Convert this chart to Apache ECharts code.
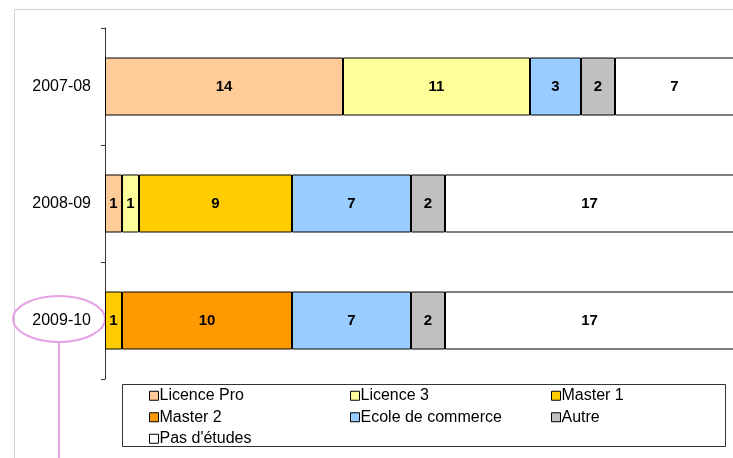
<!DOCTYPE html>
<html>
<head>
<meta charset="utf-8">
<script src="https://cdn.jsdelivr.net/npm/echarts@6/dist/echarts.min.js"></script>
<style>
html,body{margin:0;padding:0;background:#fff;}
#c{width:733px;height:458px;}
</style>
</head>
<body>
<div id="c"></div>
<script>
var categories = ['2007-08', '2008-09', '2009-10'];
var seriesNames = ['Licence Pro', 'Licence 3', 'Master 1', 'Master 2', 'Ecole de commerce', 'Autre', "Pas d'études"];
var licencePro = [14, 1, null];
var licence3 = [11, 1, null];
var master1 = [null, 9, 1];
var master2 = [null, null, 10];
var ecole = [3, 7, 7];
var autre = [2, 2, 2];
var pasEtudes = [7, 17, 17];
var colors = ['#FFCC99', '#FFFF99', '#FFCC00', '#FF9900', '#99CCFF', '#C0C0C0', '#FFFFFF'];
var values = [licencePro, licence3, master1, master2, ecole, autre, pasEtudes];

var chart = echarts.init(document.getElementById('c'));
var font = 'Liberation Sans, Arial, sans-serif';

var series = seriesNames.map(function (name, i) {
  return {
    name: name,
    type: 'bar',
    stack: 'total',
    barWidth: 58,
    data: values[i],
    itemStyle: { color: colors[i], borderColor: '#000', borderWidth: 1 },
    label: {
      show: true,
      position: 'inside',
      color: '#000',
      fontWeight: 'bold',
      fontSize: 15,
      fontFamily: font
    },
    emphasis: { disabled: true }
  };
});

function legendCol(names, left) {
  return {
    orient: 'vertical',
    left: left,
    top: 387,
    icon: 'rect',
    itemWidth: 9,
    itemHeight: 9,
    itemGap: 4,
    padding: 0,
    selectedMode: false,
    data: names,
    itemStyle: { borderColor: '#000', borderWidth: 1 },
    textStyle: { color: '#000', fontSize: 16, fontFamily: font, lineHeight: 17.5, padding: [0, 0, 0, -4] }
  };
}

chart.setOption({
  animation: false,
  backgroundColor: '#fff',
  grid: { left: 105, top: 28, width: 629, height: 351, outerBoundsMode: 'none', containLabel: false },
  xAxis: { type: 'value', min: 0, max: 37, show: false },
  yAxis: {
    type: 'category',
    data: categories,
    inverse: true,
    axisLine: { lineStyle: { color: '#333', width: 1 } },
    axisTick: { show: true, length: 4, lineStyle: { color: '#333' } },
    axisLabel: { color: '#000', fontSize: 16, fontFamily: font, margin: 14 }
  },
  legend: [
    legendCol([seriesNames[0], seriesNames[3], seriesNames[6]], 149),
    legendCol([seriesNames[1], seriesNames[4]], 350),
    legendCol([seriesNames[2], seriesNames[5]], 551)
  ],
  graphic: [
    { type: 'rect', shape: { x: 14.5, y: 9.5, width: 800, height: 500 }, style: { fill: 'none', stroke: '#d0d0d0', lineWidth: 1 }, z: -1 },
    { type: 'rect', shape: { x: 122.5, y: 384.5, width: 603, height: 62 }, style: { fill: 'none', stroke: '#333', lineWidth: 1 } },
    { type: 'ellipse', shape: { cx: 59, cy: 319, rx: 46, ry: 23 }, style: { fill: 'none', stroke: '#e6a3e6', lineWidth: 2 } },
    { type: 'line', shape: { x1: 59, y1: 342, x2: 59, y2: 460 }, style: { stroke: '#e6a3e6', lineWidth: 2 } }
  ],
  series: series
});
</script>
</body>
</html>
